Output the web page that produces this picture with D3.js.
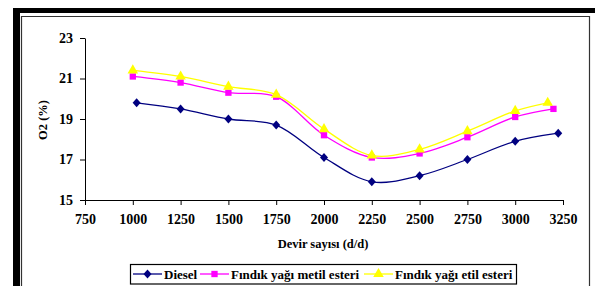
<!DOCTYPE html>
<html lang="tr">
<head>
<meta charset="utf-8">
<title>O2 (%)</title>
<style>
  body { margin: 0; background: #fff; }
  svg { display: block; }
  text { font-family: "Liberation Serif", "Times New Roman", serif; font-weight: bold; }
</style>
</head>
<body>
<svg id="chart" width="595" height="286"></svg>
<script src="https://d3js.org/d3.v7.min.js"></script>
<script>
// values
const seriesNames = ["Diesel", "Fındık yağı metil esteri", "Fındık yağı etil esteri"];
const dieselRpm = [1020, 1250, 1500, 1750, 2000, 2250, 2500, 2750, 3000, 3225];
const dieselO2 = [19.8, 19.5, 19.0, 18.7, 17.1, 15.9, 16.2, 17.0, 17.9, 18.3];
const metilRpm = [1000, 1250, 1500, 1750, 2000, 2250, 2500, 2750, 3000, 3200];
const metilO2 = [21.1, 20.8, 20.3, 20.1, 18.2, 17.1, 17.3, 18.1, 19.1, 19.5];
const etilRpm = [1000, 1250, 1500, 1750, 2000, 2250, 2500, 2750, 3000, 3170];
const etilO2 = [21.4, 21.1, 20.6, 20.2, 18.5, 17.2, 17.5, 18.4, 19.4, 19.8];
const xTicks = [750, 1000, 1250, 1500, 1750, 2000, 2250, 2500, 2750, 3000, 3250];
const yTicks = [15, 17, 19, 21, 23];

const colors = ["#000080", "#ff00ff", "#ffff00"];

// excel-ish markers: wide diamond, square, triangle
const diamond = { draw(ctx) { ctx.moveTo(0, -4.5); ctx.lineTo(4, 0); ctx.lineTo(0, 4.5); ctx.lineTo(-4, 0); ctx.closePath(); } };
const symbols = [diamond, d3.symbolSquare, d3.symbolTriangle];
const symSizes = [1, 40, 48];

const svg = d3.select("#chart");

// frame, like the excel chart border
svg.append("rect").attr("x", 13).attr("y", 8).attr("width", 582).attr("height", 5).attr("fill", "#000");
svg.append("rect").attr("x", 13).attr("y", 8).attr("width", 7).attr("height", 278).attr("fill", "#000");
svg.append("path")
  .attr("d", "M21.5,290V16.5H589.5V290")
  .attr("fill", "none")
  .attr("stroke", "#333")
  .attr("stroke-width", 1.2);

const x = d3.scaleLinear().domain([750, 3250]).range([85, 563]);
const y = d3.scaleLinear().domain([15, 23]).range([200, 38]);

const xAxis = svg.append("g")
  .attr("transform", "translate(0,200)")
  .call(d3.axisBottom(x).tickValues(xTicks).tickFormat(d3.format("d"))
    .tickSize(5).tickPadding(9).tickSizeOuter(0));
const yAxis = svg.append("g")
  .attr("transform", "translate(85,0)")
  .call(d3.axisLeft(y).tickValues(yTicks).tickFormat(d3.format("d"))
    .tickSize(5).tickPadding(7).tickSizeOuter(0));

[xAxis, yAxis].forEach(g => {
  g.select(".domain").attr("stroke", "#000");
  g.selectAll(".tick line").attr("stroke", "#000");
  g.selectAll(".tick text")
    .attr("fill", "#000")
    .style("font-family", "'Liberation Serif', serif")
    .style("font-weight", "bold")
    .style("font-size", "14px");
});

svg.append("text")
  .attr("x", 323).attr("y", 248)
  .attr("text-anchor", "middle")
  .style("font-size", "12.5px")
  .text("Devir sayısı (d/d)");

svg.append("text")
  .attr("transform", "translate(47,120) rotate(-90)")
  .attr("text-anchor", "middle")
  .style("font-size", "12.5px")
  .text("O2 (%)");

const series = [
  { xs: dieselRpm, ys: dieselO2 },
  { xs: metilRpm, ys: metilO2 },
  { xs: etilRpm, ys: etilO2 }
];

const line = d3.line()
  .x(d => x(d[0]))
  .y(d => y(d[1]))
  .curve(d3.curveCatmullRom.alpha(0.5));

series.forEach((s, i) => {
  const pts = s.xs.map((v, j) => [v, s.ys[j]]);
  svg.append("path")
    .datum(pts)
    .attr("d", line)
    .attr("fill", "none")
    .attr("stroke", colors[i])
    .attr("stroke-width", 1.3);
});

series.forEach((s, i) => {
  const pts = s.xs.map((v, j) => [v, s.ys[j]]);
  svg.append("g").selectAll("path")
    .data(pts)
    .join("path")
    .attr("transform", d => `translate(${x(d[0])},${y(d[1])})`)
    .attr("d", d3.symbol().type(symbols[i]).size(symSizes[i]))
    .attr("fill", colors[i]);
});

// legend
const legend = svg.append("g");
legend.append("rect")
  .attr("x", 130.5).attr("y", 264.5)
  .attr("width", 386).attr("height", 19.5)
  .attr("fill", "#fff")
  .attr("stroke", "#000")
  .attr("stroke-width", 1.2);

const legendX = [133, 200, 364];
seriesNames.forEach((name, i) => {
  const g = legend.append("g").attr("transform", `translate(${legendX[i]},274)`);
  g.append("line")
    .attr("x1", 0).attr("x2", 29)
    .attr("stroke", colors[i])
    .attr("stroke-width", 1.3);
  g.append("path")
    .attr("transform", "translate(14.5,0)")
    .attr("d", d3.symbol().type(symbols[i]).size(symSizes[i]))
    .attr("fill", colors[i]);
  g.append("text")
    .attr("x", 31).attr("y", 4.5)
    .style("font-size", "13px")
    .text(name);
});
</script>
</body>
</html>
